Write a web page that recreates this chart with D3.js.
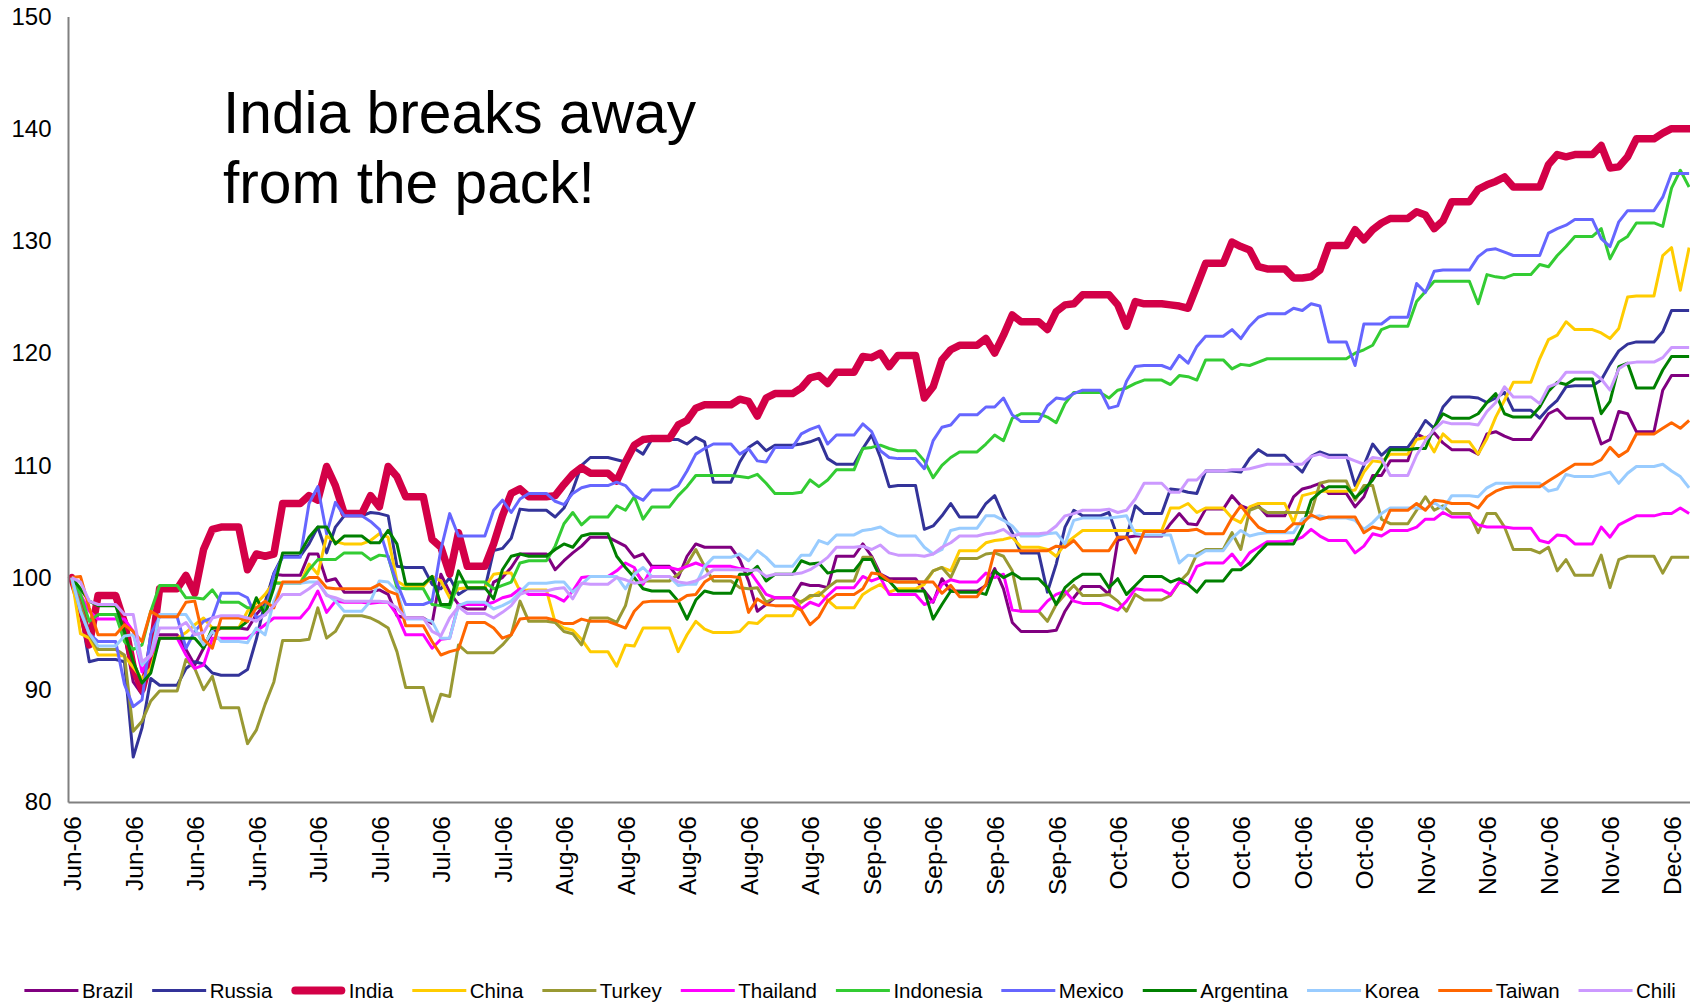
<!DOCTYPE html>
<html>
<head>
<meta charset="utf-8">
<script src="https://cdn.jsdelivr.net/npm/d3@7"></script>
<style>
  html, body { margin: 0; padding: 0; background: #fff; }
  svg { display: block; }
  text { font-family: "Liberation Sans", Arial, Helvetica, sans-serif; fill: #000; }
</style>
</head>
<body>
<svg id="chart" width="1690" height="1005"></svg>
<script>
// ---------------- DATA ----------------
// Trading days from Tue 6-Jun-2006 to Thu 7-Dec-2006 (Mon-Fri), index = 100 on 6-Jun-2006.
const startDate = "2006-06-06";
const endDate = "2006-12-07";

const tickLabels = ["Jun-06","Jun-06","Jun-06","Jun-06","Jul-06","Jul-06","Jul-06","Jul-06",
  "Aug-06","Aug-06","Aug-06","Aug-06","Aug-06","Sep-06","Sep-06","Sep-06","Sep-06",
  "Oct-06","Oct-06","Oct-06","Oct-06","Oct-06","Nov-06","Nov-06","Nov-06","Nov-06","Dec-06"];

const yTicks = [80, 90, 100, 110, 120, 130, 140, 150];

const seriesNames = ["Brazil","Russia","India","China","Turkey","Thailand","Indonesia","Mexico","Argentina","Korea","Taiwan","Chili"];

const brazil = [100,97.5,95.2,96.7,
  94.9,90.7,89.6,94.9,94.9, 93.6,92.2,93.7,95.1,95.5, 95.4,96.7,97.6,100.3,100.2,
  102.1,102.1,99.7,99.9,98.7, 98.7,98.9,98.5,96.6,96.4, 95.9,100.3,98.7,97.6,97.2,
  99.6,100.0,100.9,102.1,102.1, 100.7,101.5,102.2,102.8,103.6, 103.2,102.8,101.8,102.1,101.0,
  100.0,101.9,103.0,102.7,102.7, 101.6,99.7,97.0,97.6,98.2, 99.5,99.3,99.3,99.1,101.9,
  103.0,101.9,100.3,99.9,99.9, 98.8,97.8,99.9,98.8,98.8, 99.3,100.8,99.0,96.0,95.2,
  95.2,95.3,97.0,98.2,99.2, 98.5,103.3,103.6,103.7,103.7, 104.8,105.7,104.8,104.7,106.1,
  107.3,106.4,106.1,106.4,105.5, 107.2,107.9,108.1,108.4,107.5, 106.3,107.2,109.1,109.1,110.4,
  112.8,112.4,112.9,112.0,111.4, 111.0,112.8,113.0,112.6,112.3, 113.4,114.6,115.0,114.2,114.2,
  111.9,112.3,114.8,114.6,113.0, 116.7,118.0,118.0,118.0];

const russia = [100,97.0,92.5,92.7,
  92.5,84.0,86.6,91.0,90.4, 91.9,92.5,92.3,91.5,91.3, 91.8,94.5,97.8,100.4,101.9,
  103.0,104.5,102.2,104.5,105.5, 105.8,105.7,105.5,101.0,100.9, 99.4,99.0,100.0,98.5,99.0,
  102.4,102.6,103.5,106.1,106.0, 105.4,106.2,107.8,110.0,110.7, 110.5,110.3,111.5,111.0,112.3,
  112.3,111.9,112.5,112.1,108.5, 110.3,111.6,112.1,111.3,111.8, 111.9,112.1,112.4,110.6,110.1,
  111.5,112.7,110.7,108.1,108.2, 104.3,104.6,105.5,106.6,105.4, 106.6,107.3,105.5,104.0,102.2,
  98.7,101.2,104.5,106.0,105.5, 105.8,103.6,103.6,106.4,105.7, 107.9,107.8,107.6,107.5,109.5,
  109.5,109.4,110.6,111.4,110.9, 110.1,109.4,110.8,111.2,110.9, 108.2,110.0,111.9,110.9,111.6,
  112.7,114.0,113.3,115.2,116.1, 116.0,115.6,116.0,116.5,114.9, 114.2,115.1,115.8,117.0,117.1,
  117.6,119.0,120.2,120.8,121.0, 121.9,123.8,123.8,123.8];

const india = [100,97.5,94.0,98.4,
  96.0,92.0,90.0,93.0,99.0, 100.2,98.6,102.5,104.3,104.5, 100.7,102.1,101.9,102.1,106.6,
  107.3,106.9,109.9,108.2,105.7, 107.3,106.3,109.9,109.0,107.2, 103.4,102.7,100.3,104.0,101.0,
  103.0,105.5,107.5,107.9,107.2, 107.3,108.3,109.2,109.8,109.3, 108.6,110.3,111.8,112.3,112.4,
  113.6,114.0,115.1,115.4,115.4, 115.9,115.7,114.4,116.0,116.4, 116.9,117.8,118.0,117.3,118.3,
  119.7,119.6,120.0,118.8,119.8, 116.0,117.0,119.4,120.3,120.7, 121.3,120.0,121.6,123.4,122.8,
  122.1,123.7,124.3,124.4,125.2, 125.2,124.3,122.4,124.6,124.4, 124.3,124.2,124.0,126.0,128.0,
  129.9,129.5,129.2,127.7,127.5, 126.7,126.7,126.8,127.4,129.6, 131.0,130.1,131.0,131.6,132.0,
  132.6,132.3,131.1,131.8,133.5, 134.6,135.0,135.3,135.7,134.8, 134.8,136.8,137.7,137.5,137.7,
  138.5,136.5,136.6,137.5,139.1, 139.6,140.0,140.0,140.0];

const china = [100,95.0,94.6,93.1,
  93.0,92.0,91.0,91.9,94.6, 95.1,95.8,96.4,95.5,95.5, 97.0,97.7,98.5,99.6,99.5,
  101.2,100.3,103.7,103.2,103.0, 103.3,103.9,103.6,99.7,99.2, 100.1,99.7,98.2,99.0,99.1,
  100.3,100.4,100.4,98.8,98.9, 96.0,95.5,95.3,94.5,93.4, 92.1,94.0,93.9,95.5,95.5,
  93.4,94.9,96.1,95.4,95.1, 95.2,96.0,95.9,96.6,96.6, 97.9,98.2,98.7,98.0,97.3,
  98.5,99.0,99.4,98.7,99.0, 99.4,100.6,100.9,100.6,102.4, 103.1,103.3,103.4,103.6,102.7,
  102.5,101.9,103.0,103.6,104.2, 104.2,104.2,104.2,104.2,104.2, 106.2,106.2,106.6,105.8,106.2,
  105.3,104.9,106.3,106.6,106.6, 104.9,107.3,107.5,107.7,107.7, 107.8,109.4,110.4,110.3,111.0,
  112.3,112.5,111.2,112.8,112.1, 111.0,112.4,114.3,115.8,117.4, 119.5,121.2,121.6,122.8,122.1,
  121.8,121.3,122.2,125.0,125.1, 128.7,129.4,125.6,129.4];

const turkey = [100,97.5,94.9,93.6,
  93.1,86.3,87.2,89.0,89.9, 92.7,91.9,90.0,91.2,88.4, 85.2,86.4,88.7,90.7,94.4,
  94.5,97.3,94.6,95.2,96.6, 96.4,96.0,95.5,93.4,90.2, 87.2,89.6,89.4,94.0,93.3,
  93.3,94.0,94.9,97.9,96.1, 96.0,95.2,95.0,94.0,96.4, 96.0,97.5,100.6,99.7,99.7,
  100.3,101.2,102.5,101.0,99.7, 99.1,99.0,99.1,97.8,98.2, 97.8,98.4,98.4,99.1,99.7,
  101.8,101.8,100.0,99.7,99.6, 99.6,100.6,100.9,100.0,101.7, 102.1,102.2,101.9,100.6,97.0,
  96.1,97.6,98.5,99.3,98.4, 98.5,97.9,97.0,98.5,98.0, 98.4,99.6,100.4,102.1,102.5,
  104.0,102.5,106.0,106.3,105.8, 105.8,105.8,105.8,108.4,108.6, 106.9,108.2,108.2,105.2,104.8,
  106.0,107.2,106.0,106.4,105.7, 104.0,105.7,105.7,104.5,102.5, 102.2,102.7,100.6,101.6,100.2,
  102.0,99.1,101.6,101.9,101.9, 100.4,101.8,101.8,101.8];

const thailand = [100,98.5,97.0,96.3,
  96.3,95.2,91.6,93.1,94.6, 93.1,91.9,92.2,94.6,94.6, 94.6,95.2,95.8,96.4,96.4,
  97.3,98.8,96.9,97.9,97.8, 97.7,97.8,97.8,96.7,94.9, 93.7,94.5,94.6,97.6,97.6,
  97.8,98.2,98.4,99.0,98.5, 98.3,97.9,98.8,100.0,100.1, 100.6,101.3,100.9,99.4,100.9,
  100.7,101.0,101.3,101.0,101.0, 100.8,100.7,99.6,98.5,98.2, 97.2,97.8,97.5,98.4,99.1,
  100.1,99.7,100.0,98.5,98.5, 97.6,97.9,99.4,99.8,99.6, 100.4,100.0,100.3,97.1,97.0,
  97.9,98.5,98.8,97.9,97.7, 97.4,97.1,97.9,99.0,98.9, 98.5,99.6,99.4,101.0,101.3,
  102.1,101.1,102.2,102.7,103.2, 103.3,103.6,104.3,103.7,103.3, 102.2,102.8,103.9,103.7,104.2,
  104.5,105.2,105.2,105.8,105.4, 104.7,104.5,104.5,104.5,104.4, 103.3,103.1,103.8,103.7,103.0,
  104.5,103.6,104.7,105.1,105.5, 105.7,105.7,106.2,105.7];

const indonesia = [100,98.5,96.1,96.7,
  94.3,93.6,94.0,97.0,99.3, 98.2,98.2,98.1,98.9,97.8, 97.3,97.3,97.3,99.5,99.5,
  100.7,101.6,101.6,101.6,102.2, 101.6,102.0,101.9,99.1,99.0, 97.6,97.5,97.3,99.6,99.6,
  99.0,99.3,99.6,101.3,101.5, 102.8,104.8,105.8,104.7,105.4, 106.4,106.0,107.2,105.2,106.3,
  107.3,108.1,109.1,109.1,109.1, 109.0,108.9,109.2,108.4,107.5, 107.6,108.7,108.1,108.7,109.6,
  111.5,111.6,111.8,111.5,111.3, 110.4,108.9,110.0,110.7,111.2, 111.9,112.7,112.2,114.2,114.6,
  114.3,113.8,115.5,116.5,116.5, 116.0,116.7,116.9,117.3,117.6, 117.2,118.0,117.9,117.6,119.4,
  118.6,119.0,118.9,119.2,119.5, 119.5,119.5,119.5,119.5,119.5, 120.0,120.3,120.7,122.1,122.4,
  124.6,125.5,126.4,126.4,126.4, 124.4,127.0,126.8,126.7,127.0, 127.9,127.7,128.7,129.5,130.4,
  131.1,128.4,129.9,130.4,131.6, 131.3,134.7,136.3,134.8];

const mexico = [100,97.0,95.0,94.3,
  90.5,88.5,89.1,95.0,96.5, 93.7,95.2,96.1,96.4,98.6, 98.2,96.4,96.7,100.3,101.8,
  106.6,108.1,103.9,106.7,105.5, 105.0,104.3,101.8,99.5,97.6, 97.9,102.5,105.7,103.7,103.7,
  106.0,106.9,105.8,107.0,107.5, 106.8,106.5,107.5,108.0,108.2, 108.5,108.2,107.3,106.9,107.8,
  108.2,109.5,111.0,111.5,111.9, 111.0,111.5,110.4,110.3,111.6, 112.8,113.2,113.5,111.9,112.7,
  113.7,113.0,111.3,110.7,110.6, 109.7,112.2,113.4,113.6,114.5, 115.2,115.2,116.0,114.5,113.9,
  115.3,116.0,115.9,116.4,116.7, 115.1,115.3,117.5,118.8,118.9, 118.6,119.8,119.1,120.6,121.5,
  122.1,121.3,122.4,123.2,123.5, 124.0,123.8,124.4,124.2,121.0, 118.9,122.6,122.6,122.6,123.2,
  126.2,125.4,127.3,127.4,127.4, 128.6,129.2,129.3,129.0,128.7, 128.7,130.7,131.1,131.4,131.9,
  130.2,129.5,131.7,132.7,132.7, 133.9,136.0,136.0,136.0];

const argentina = [100,99.0,97.9,97.5,
  95.2,92.5,90.6,91.5,94.6, 94.6,94.6,93.7,95.5,95.5, 96.1,98.2,96.7,99.1,102.2,
  103.6,104.5,104.5,103.0,103.7, 103.1,103.1,104.2,103.0,99.4, 100.1,97.6,97.6,100.6,99.1,
  98.1,100.7,101.9,102.1,101.9, 102.5,103.0,102.7,103.7,103.9, 101.9,100.9,100.0,99.0,98.8,
  97.9,96.3,98.0,98.8,98.6, 100.3,100.3,101.0,99.7,100.3, 101.5,101.2,101.3,100.4,100.6,
  101.6,101.6,100.0,99.7,98.8, 98.8,96.3,97.6,98.8,98.7, 98.5,100.6,100.0,100.4,99.9,
  99.1,97.6,99.1,99.8,100.3, 99.1,99.9,98.5,99.3,100.1, 99.6,99.9,99.4,98.7,99.7,
  100.7,100.7,101.3,102.2,103.0, 103.0,104.5,106.9,107.6,108.1, 107.1,107.8,108.7,109.9,111.4,
  111.5,111.5,113.4,114.6,114.2, 114.6,115.6,116.4,114.6,114.3, 115.2,116.6,117.4,117.2,117.7,
  114.6,115.7,118.8,119.1,116.9, 118.5,119.7,119.7,119.7];

const korea = [100,97.0,95.0,93.9,
  94.8,94.9,92.2,93.1,96.7, 96.7,95.5,94.0,95.2,94.3, 94.2,95.5,94.9,97.9,99.5,
  99.6,99.6,98.5,97.9,97.0, 97.9,99.7,99.6,98.8,96.3, 96.1,94.6,94.6,97.5,97.8,
  97.2,97.5,97.9,98.7,99.5, 99.6,99.6,98.7,99.4,100.1, 100.1,99.0,100.3,100.9,100.1,
  99.3,99.4,99.4,101.0,101.8, 102.1,101.5,102.4,101.8,101.0, 102.0,102.0,103.3,103.0,103.8,
  104.2,104.3,104.5,104.0,103.7, 102.7,102.1,102.5,104.2,104.4, 105.5,105.5,105.1,104.6,103.7,
  103.9,104.0,103.0,105.1,105.3, 105.3,105.4,105.5,103.9,103.8, 103.8,101.3,102.0,101.9,102.4,
  103.5,104.2,103.7,103.9,104.0, 104.0,105.2,105.4,105.5,105.3, 105.1,104.3,104.9,105.7,106.2,
  106.2,106.1,106.7,106.1,107.3, 107.2,108.0,108.4,108.4,108.4, 108.4,107.7,107.9,109.2,109.0,
  109.2,109.4,108.4,109.3,109.9, 110.1,109.5,109.0,108.0];

const taiwan = [100,100.1,97.3,94.9,
  95.8,95.2,94.3,97.0,96.5, 97.8,97.9,94.5,93.7,96.4, 96.1,97.3,97.9,97.3,99.6,
  100.0,100.0,99.1,99.0,99.0, 99.0,99.4,98.8,98.5,95.7, 94.3,93.1,93.4,93.6,96.0,
  95.5,94.6,94.9,96.3,96.4, 96.2,95.9,95.9,96.3,96.1, 95.8,95.5,97.0,97.8,97.9,
  97.9,98.4,98.5,99.6,100.1, 100.0,96.9,98.1,97.6,97.5, 97.1,95.8,96.5,97.9,98.5,
  99.0,100.4,100.3,99.7,99.6, 99.6,99.6,98.6,99.3,98.3, 99.4,102.4,102.4,102.4,102.4,
  102.4,102.8,102.7,103.3,102.4, 102.4,103.6,103.6,102.2,104.1, 104.2,104.2,104.2,104.3,103.9,
  105.3,106.4,105.4,104.5,104.1, 104.8,104.8,105.6,105.2,105.4, 105.4,104.0,104.5,104.3,106.0,
  106.6,106.0,106.9,106.8,106.6, 106.2,107.2,107.7,108.0,108.1, 108.1,108.6,109.1,109.6,110.1,
  110.5,111.6,110.8,111.3,112.8, 113.3,113.8,113.3,114.0];

const chili = [100,99.6,97.9,97.6,
  96.7,96.7,92.5,93.1,95.5, 96.0,94.9,95.1,96.4,96.6, 96.4,96.1,96.7,97.5,98.5,
  99.0,99.6,98.4,98.2,97.9, 97.9,97.9,97.8,97.3,96.4, 95.2,94.8,96.4,97.4,96.8,
  96.4,96.9,97.5,98.5,98.8, 99.0,99.1,98.1,99.5,99.4, 100.0,99.8,99.5,99.6,100.1,
  99.6,99.5,99.7,100.1,100.7, 100.7,100.6,100.7,100.1,100.3, 100.4,100.7,101.2,101.8,102.7,
  102.8,102.5,102.9,102.2,102.0, 101.9,102.1,102.7,103.1,103.7, 103.9,104.0,104.3,103.7,103.9,
  104.0,104.6,105.5,105.7,106.0, 106.1,105.8,106.0,107.0,108.4, 107.6,107.6,108.7,108.7,109.5,
  109.6,109.6,109.7,109.9,110.1, 110.1,110.1,110.8,111.0,110.7, 110.4,110.1,110.7,110.6,109.1,
  110.9,112.2,113.2,113.9,113.7, 113.6,114.8,115.6,117.0,116.1, 115.5,117.0,117.3,118.3,118.3,
  117.7,116.7,118.6,119.1,119.2, 119.6,120.5,120.5,120.5];

const seriesValues = [brazil, russia, india, china, turkey, thailand, indonesia, mexico, argentina, korea, taiwan, chili];
const seriesColors = ["#800080","#333399","#d30047","#ffcc00","#999933","#ff00ff","#33cc33","#6666ff","#008000","#99ccff","#ff6600","#cc99ff"];
const annotation = ["India breaks away", "from the pack!"];

// ---------------- LAYOUT ----------------
const plot = { left: 68, right: 1690, top: 16.5, bottom: 802 };
const DAY = 864e5;
const t0 = Date.parse(startDate + "T00:00:00Z");
const t1 = Date.parse(endDate + "T00:00:00Z");

const tradingDays = d3.utcDay.range(new Date(t0), new Date(t1 + DAY))
  .filter(d => d.getUTCDay() !== 0 && d.getUTCDay() !== 6);

const x = d3.scaleUtc()
  .domain([new Date(t0 - 0.42 * DAY), new Date(t1 + 0.1 * DAY)])
  .range([plot.left, plot.right]);
const y = d3.scaleLinear().domain([80, 150]).range([plot.bottom, plot.top]);

const svg = d3.select("#chart");

// markets closed at weekends -> Friday close is held through Sat/Sun
function toPoints(vals) {
  const pts = [];
  const n = Math.min(vals.length, tradingDays.length);
  for (let i = 0; i < n; i++) {
    const dt = tradingDays[i];
    pts.push([dt, vals[i]]);
    if (dt.getUTCDay() === 5 && i < n - 1) {
      pts.push([d3.utcDay.offset(dt, 1), vals[i]]);
      pts.push([d3.utcDay.offset(dt, 2), vals[i]]);
    }
  }
  return pts;
}

const line = d3.line().x(p => x(p[0])).y(p => y(p[1]));

const gLines = svg.append("g");
seriesValues.forEach((vals, i) => {
  const isIndia = seriesNames[i] === "India";
  gLines.append("path")
    .datum(toPoints(vals))
    .attr("d", line)
    .attr("fill", "none")
    .attr("stroke", seriesColors[i])
    .attr("stroke-width", isIndia ? 7.5 : 3)
    .attr("stroke-linejoin", "round")
    .attr("stroke-linecap", isIndia ? "round" : "butt");
});

// axes
const yAxis = d3.axisLeft(y).tickValues(yTicks).tickSize(0).tickPadding(16.5).tickSizeOuter(0);
const gy = svg.append("g").attr("transform", `translate(${plot.left},0)`).call(yAxis);
gy.select(".domain").attr("stroke", "#808080").attr("stroke-width", 2);
gy.selectAll("text").style("font-size", "24px").attr("fill", "#000")
  .attr("font-family", '"Liberation Sans", Arial, sans-serif');

const tickDates = tickLabels.map((_, k) => d3.utcDay.offset(new Date(t0), 7 * k));
const xAxis = d3.axisBottom(x).tickValues(tickDates).tickSize(0).tickSizeOuter(0)
  .tickFormat((d, i) => tickLabels[i]);
const gx = svg.append("g").attr("transform", `translate(0,${plot.bottom})`).call(xAxis);
gx.select(".domain").attr("stroke", "#808080").attr("stroke-width", 2);
gx.selectAll("text")
  .style("font-size", "24.5px").attr("fill", "#000")
  .attr("font-family", '"Liberation Sans", Arial, sans-serif')
  .attr("transform", "rotate(-90)")
  .attr("x", -14).attr("y", 0).attr("dy", "0.36em")
  .style("text-anchor", "end");

// annotation
const ann = svg.append("text").attr("x", 223).attr("y", 133)
  .style("font-size", "58.7px");
annotation.forEach((s, i) => {
  ann.append("tspan").attr("x", 223).attr("y", 133 + i * 69.5).text(s);
});

// legend
const legY = 990.5;
let lx = 24.4;
const gLeg = svg.append("g");
seriesNames.forEach((name, i) => {
  const isIndia = name === "India";
  gLeg.append("line")
    .attr("x1", lx + (isIndia ? 4 : 0)).attr("x2", lx + 54 - (isIndia ? 4 : 0))
    .attr("y1", legY).attr("y2", legY)
    .attr("stroke", seriesColors[i])
    .attr("stroke-width", isIndia ? 8 : 3)
    .attr("stroke-linecap", isIndia ? "round" : "butt");
  const t = gLeg.append("text").attr("x", lx + 57.5).attr("y", legY)
    .attr("dy", "0.35em").style("font-size", "20.5px").text(name);
  const w = t.node().getComputedTextLength();
  lx = lx + 57.5 + w + 19;
});
</script>
</body>
</html>
